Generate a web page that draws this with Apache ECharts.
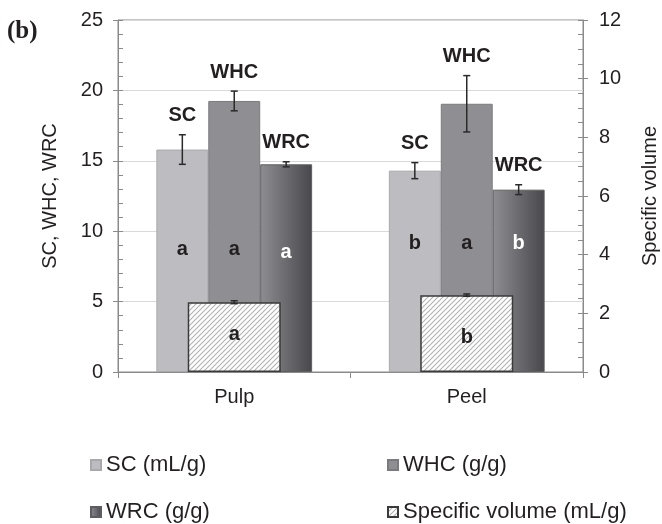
<!DOCTYPE html>
<html>
<head>
<meta charset="utf-8">
<script src="https://cdn.jsdelivr.net/npm/echarts@6/dist/echarts.min.js"></script>
<style>
html,body{margin:0;padding:0;background:#fff;}
#chart{width:662px;height:524px;}
</style>
</head>
<body>
<div id="chart"></div>
<script>
// ---- data ----
var categories = ['Pulp', 'Peel'];
var scValues = [15.8, 14.3];
var scErrors = [1.05, 0.57];
var whcValues = [19.25, 19.05];
var whcErrors = [0.7, 2.0];
var wrcValues = [14.75, 12.95];
var wrcErrors = [0.18, 0.35];
var svValues = [2.38, 2.62];
var svErrors = [0.05, 0.04];
var scLetters = ['a', 'b'];
var whcLetters = ['a', 'a'];
var wrcLetters = ['a', 'b'];
var svLetters = ['a', 'b'];
var groupNames = ['SC', 'WHC', 'WRC'];
var leftTicks = [0, 5, 10, 15, 20, 25];
var rightTicks = [0, 2, 4, 6, 8, 10, 12];

// ---- styles ----
var FONT = '"Liberation Sans", Arial, sans-serif';
var TXT = '#231f20';
var AXIS = '#8a8a8a';

function hatch() {
  var s = 5;
  var c = document.createElement('canvas');
  c.width = s; c.height = s;
  var g = c.getContext('2d');
  g.fillStyle = '#ffffff'; g.fillRect(0, 0, s, s);
  g.strokeStyle = '#b2b2b2'; g.lineWidth = 1.1;
  g.beginPath();
  g.moveTo(0, s); g.lineTo(s, 0);
  g.moveTo(-1, 1); g.lineTo(1, -1);
  g.moveTo(s - 1, s + 1); g.lineTo(s + 1, s - 1);
  g.stroke();
  return c;
}
var hatchPattern = { image: hatch(), repeat: 'repeat' };

var GAP = 0.33;
function letterData(vals, letters, color, dist) {
  return vals.map(function (v, i) {
    return {
      value: v,
      label: { show: true, formatter: letters[i], position: 'insideBottom',
        distance: dist[i], color: color, fontSize: 20, fontWeight: 'bold', fontFamily: FONT }
    };
  });
}
var mainDist = [113, 119];

function errSeries(vals, errs, idx, name, xi, yi, groupCount) {
  return {
    type: 'custom', xAxisIndex: xi, yAxisIndex: yi, z: 10, silent: true,
    data: vals.map(function (v, i) { return [i, v, errs[i]]; }),
    renderItem: function (params, api) {
      var c = api.value(0), v = api.value(1), e = api.value(2);
      var band = api.size([1, 0])[0];
      var cx = api.coord([c, 0])[0];
      if (groupCount > 1) {
        var bw = band * (1 - GAP) / groupCount;
        cx += (idx - (groupCount - 1) / 2) * bw;
      }
      var yt = api.coord([c, v + e])[1];
      var yb = api.coord([c, v - e])[1];
      var st = { stroke: '#2a2a2a', lineWidth: 1.5 };
      var ch = [
        { type: 'line', shape: { x1: cx, y1: yt, x2: cx, y2: yb }, style: st },
        { type: 'line', shape: { x1: cx - 3.5, y1: yt, x2: cx + 3.5, y2: yt }, style: st },
        { type: 'line', shape: { x1: cx - 3.5, y1: yb, x2: cx + 3.5, y2: yb }, style: st }
      ];
      if (name) {
        ch.push({ type: 'text', x: cx, y: yt - 19,
          style: { text: name, fill: TXT, font: 'bold 20px ' + FONT, align: 'center', verticalAlign: 'middle' } });
      }
      return { type: 'group', children: ch };
    }
  };
}

var legendBase = { orient: 'vertical', top: 454, height: 70, padding: 0, itemWidth: 10, itemHeight: 10, itemGap: 25, icon: 'rect',
  textStyle: { fontSize: 22, color: TXT, fontFamily: FONT, lineHeight: 22 } };

var chart = echarts.init(document.getElementById('chart'), null, { renderer: 'canvas' });
var option = {
  animation: false,
  backgroundColor: '#ffffff',
  textStyle: { fontFamily: FONT },
  grid: { left: 118, right: 79, top: 20, bottom: 152, outerBoundsMode: 'none', containLabel: false,
    show: true, borderColor: AXIS, borderWidth: 1, backgroundColor: 'transparent' },
  graphic: [
    { type: 'text', left: 7, top: 19, style: { text: '(b)', font: 'bold 25px "Liberation Serif", "Times New Roman", serif', fill: TXT } }
  ],
  legend: [
    Object.assign({}, legendBase, { left: 90, data: ['SC (mL/g)', 'WRC (g/g)'] }),
    Object.assign({}, legendBase, { left: 387, data: ['WHC (g/g)', 'Specific volume (mL/g)'] })
  ],
  xAxis: [
    { type: 'category', data: categories, position: 'bottom',
      axisLine: { lineStyle: { color: AXIS, width: 1 } },
      axisTick: { show: true, length: 6, lineStyle: { color: AXIS } },
      axisLabel: { fontSize: 20, color: TXT, margin: 15, fontFamily: FONT },
      splitLine: { show: false } },
    { type: 'category', data: categories, position: 'bottom',
      axisLine: { show: false },
      axisTick: { show: true, alignWithLabel: true, inside: true, length: 5, lineStyle: { color: AXIS } },
      axisLabel: { show: false }, splitLine: { show: false } }
  ],
  yAxis: [
    { type: 'value', min: leftTicks[0], max: leftTicks[leftTicks.length - 1], interval: leftTicks[1] - leftTicks[0], position: 'left',
      name: 'SC, WHC, WRC', nameLocation: 'middle', nameRotate: 90, nameGap: 58,
      nameTextStyle: { fontSize: 20, color: TXT, fontFamily: FONT },
      axisLine: { show: true, lineStyle: { color: AXIS } },
      axisTick: { show: true, length: 5, lineStyle: { color: AXIS } },
      axisLabel: { fontSize: 20, color: TXT, margin: 15, fontFamily: FONT },
      splitLine: { show: true, lineStyle: { color: '#d9d9d9', width: 1 } } },
    { type: 'value', min: rightTicks[0], max: rightTicks[rightTicks.length - 1], interval: rightTicks[1] - rightTicks[0], position: 'right',
      name: 'Specific volume', nameLocation: 'middle', nameRotate: 90, nameGap: 57,
      nameTextStyle: { fontSize: 20, color: TXT, fontFamily: FONT },
      axisLine: { show: true, lineStyle: { color: AXIS } },
      axisTick: { show: true, length: 5, lineStyle: { color: AXIS } },
      axisLabel: { fontSize: 20, color: TXT, margin: 16, fontFamily: FONT },
      splitLine: { show: false } },
    { type: 'value', min: leftTicks[0], max: leftTicks[leftTicks.length - 1], interval: leftTicks[1] - leftTicks[0], position: 'left',
      axisLine: { show: false }, axisLabel: { show: false }, splitLine: { show: false },
      axisTick: { show: true, inside: true, length: 5, lineStyle: { color: AXIS } },
      minorTick: { show: true, splitNumber: 5, length: 5, lineStyle: { color: AXIS } } },
    { type: 'value', min: rightTicks[0], max: rightTicks[rightTicks.length - 1], interval: rightTicks[1] - rightTicks[0], position: 'right',
      axisLine: { show: false }, axisLabel: { show: false }, splitLine: { show: false },
      axisTick: { show: true, inside: true, length: 5, lineStyle: { color: AXIS } },
      minorTick: { show: true, splitNumber: 4, length: 5, lineStyle: { color: AXIS } } }
  ],
  series: [
    { name: 'SC (mL/g)', type: 'bar', xAxisIndex: 0, yAxisIndex: 0, barGap: '0%', barCategoryGap: (GAP * 100) + '%', z: 2,
      itemStyle: { color: '#bdbdc1', borderColor: '#a9a9ad', borderWidth: 1 },
      data: letterData(scValues, scLetters, TXT, mainDist) },
    { name: 'WHC (g/g)', type: 'bar', xAxisIndex: 0, yAxisIndex: 0, barGap: '0%', barCategoryGap: (GAP * 100) + '%', z: 2,
      itemStyle: { color: '#8f8f93', borderColor: '#7b7b7f', borderWidth: 1 },
      data: letterData(whcValues, whcLetters, TXT, mainDist) },
    { name: 'WRC (g/g)', type: 'bar', xAxisIndex: 0, yAxisIndex: 0, barGap: '0%', barCategoryGap: (GAP * 100) + '%', z: 2,
      itemStyle: { color: { type: 'linear', x: 0, y: 0, x2: 1, y2: 0,
        colorStops: [{ offset: 0, color: '#8e8e92' }, { offset: 1, color: '#48484c' }] },
        borderColor: '#5e5e62', borderWidth: 1 },
      data: letterData(wrcValues, wrcLetters, '#ffffff', [110, 119]) },
    { name: 'Specific volume (mL/g)', type: 'bar', xAxisIndex: 1, yAxisIndex: 1, barWidth: '40%', z: 5,
      itemStyle: { color: hatchPattern, borderColor: '#3a3a3a', borderWidth: 1.5 },
      data: letterData(svValues, svLetters, TXT, [28, 25]) },
    errSeries(scValues, scErrors, 0, groupNames[0], 0, 0, 3),
    errSeries(whcValues, whcErrors, 1, groupNames[1], 0, 0, 3),
    errSeries(wrcValues, wrcErrors, 2, groupNames[2], 0, 0, 3),
    errSeries(svValues, svErrors, 0, null, 1, 1, 1)
  ]
};
chart.setOption(option);
</script>
</body>
</html>
